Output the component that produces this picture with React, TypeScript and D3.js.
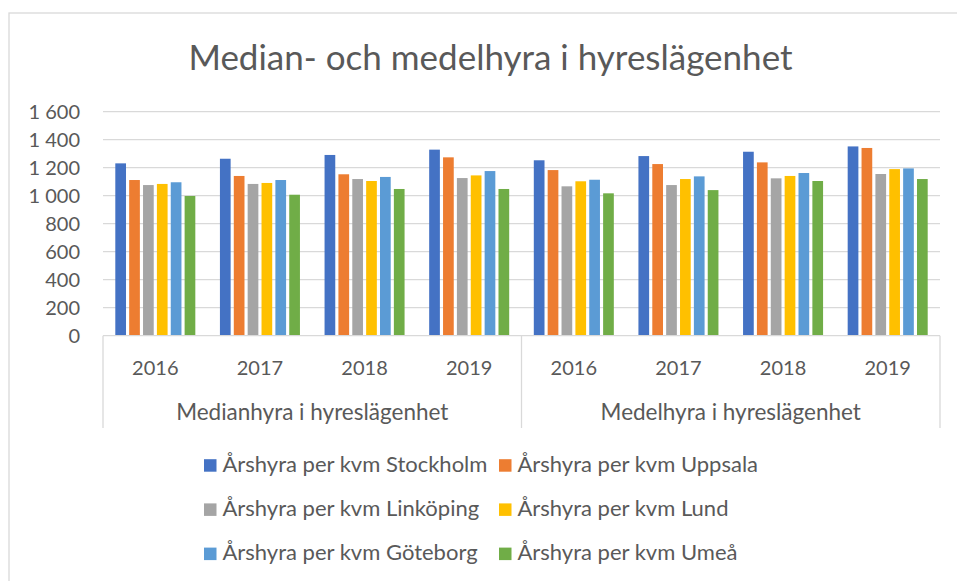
import React from "react";
import * as d3 from "d3";

const years = ["2016", "2017", "2018", "2019"];
const groups = ["Medianhyra i hyreslägenhet", "Medelhyra i hyreslägenhet"];
const seriesNames = [
  "Årshyra per kvm Stockholm",
  "Årshyra per kvm Uppsala",
  "Årshyra per kvm Linköping",
  "Årshyra per kvm Lund",
  "Årshyra per kvm Göteborg",
  "Årshyra per kvm Umeå",
];
const colors = ["#4472C4", "#ED7D31", "#A5A5A5", "#FFC000", "#5B9BD5", "#70AD47"];

// values per series across 8 categories: median 2016-2019, mean 2016-2019
const stockholm = [1231, 1264, 1291, 1329, 1253, 1283, 1314, 1352];
const uppsala = [1112, 1141, 1153, 1274, 1183, 1226, 1238, 1341];
const linkoping = [1076, 1084, 1119, 1126, 1067, 1076, 1124, 1155];
const lund = [1084, 1091, 1105, 1145, 1103, 1119, 1141, 1190];
const goteborg = [1096, 1112, 1134, 1176, 1114, 1138, 1162, 1195];
const umea = [998, 1007, 1048, 1048, 1017, 1040, 1105, 1119];
const seriesValues = [stockholm, uppsala, linkoping, lund, goteborg, umea];

const yTicks = [0, 200, 400, 600, 800, 1000, 1200, 1400, 1600];

const W = 957;
const H = 581;
const FONT = "Lato, 'Open Sans', sans-serif";
const TXT = "#595959";
const GRID = "#d9d9d9";

const fmt = (v: number) => {
  const s = String(v);
  return s.length > 3 ? s.slice(0, s.length - 3) + " " + s.slice(-3) : s;
};

export default function App() {
  const plotL = 103;
  const plotR = 940;
  const yBottom = 335.7;
  const yTop = 111.7;

  const categories = groups.flatMap((g) => years.map((yr) => `${g}|${yr}`));
  const x0 = d3.scaleBand<string>().domain(categories).range([plotL, plotR]).padding(0);
  const step = x0.step();
  const outer = step * 0.1176;
  const x1 = d3
    .scaleBand<number>()
    .domain(d3.range(seriesNames.length))
    .range([outer, step - outer])
    .paddingInner(0.228)
    .paddingOuter(0);
  const y = d3.scaleLinear().domain([0, 1600]).range([yBottom, yTop]);

  const groupX = d3.scaleBand<string>().domain(groups).range([plotL, plotR]).padding(0);

  const legendRows = [0, 1, 2];
  const legendCols = [204, 499];

  return (
    <div style={{ position: "fixed", left: 0, top: 0 }}>
      <svg width={W} height={H} style={{ display: "block", background: "#fff" }} fontFamily={FONT}>
        <rect x={9} y={13} width={W + 10} height={H + 10} fill="#fff" stroke={GRID} strokeWidth={1.3} />
        <text x={490.5} y={69.5} textAnchor="middle" fontSize={35} fill={TXT}>
          Median- och medelhyra i hyreslägenhet
        </text>
        {yTicks.map((t) => (
          <g key={t}>
            {t > 0 && (
              <line x1={plotL} x2={plotR} y1={y(t)} y2={y(t)} stroke={GRID} strokeWidth={1.3} />
            )}
            <text x={80} y={y(t) + 7} textAnchor="end" fontSize={20} fill={TXT}>
              {fmt(t)}
            </text>
          </g>
        ))}
        {seriesValues.map((vals, si) =>
          vals.map((v, ci) => (
            <rect
              key={`${si}-${ci}`}
              x={(x0(categories[ci]) ?? 0) + (x1(si) ?? 0)}
              y={y(v)}
              width={x1.bandwidth()}
              height={yBottom - y(v)}
              fill={colors[si]}
            />
          ))
        )}
        <line x1={plotL} x2={plotR} y1={yBottom} y2={yBottom} stroke={GRID} strokeWidth={1.3} />
        {[plotL, (plotL + plotR) / 2, plotR].map((lx, i) => (
          <line key={i} x1={lx} x2={lx} y1={yBottom} y2={428} stroke={GRID} strokeWidth={1.3} />
        ))}
        {categories.map((c) => (
          <text
            key={c}
            x={(x0(c) ?? 0) + step / 2}
            y={374.5}
            textAnchor="middle"
            fontSize={20}
            fill={TXT}
          >
            {c.split("|")[1]}
          </text>
        ))}
        {groups.map((g) => (
          <text
            key={g}
            x={(groupX(g) ?? 0) + groupX.step() / 2}
            y={420}
            textAnchor="middle"
            fontSize={22.5}
            fill={TXT}
          >
            {g}
          </text>
        ))}
        {seriesNames.map((name, i) => {
          const row = legendRows[Math.floor(i / 2)];
          const lx = legendCols[i % 2];
          const by = 471.7 + row * 44.2;
          return (
            <g key={name}>
              <rect x={lx} y={by - 12.5} width={12.5} height={12.5} fill={colors[i]} />
              <text x={lx + 18.5} y={by} fontSize={22} fill={TXT}>
                {name}
              </text>
            </g>
          );
        })}
      </svg>
    </div>
  );
}
